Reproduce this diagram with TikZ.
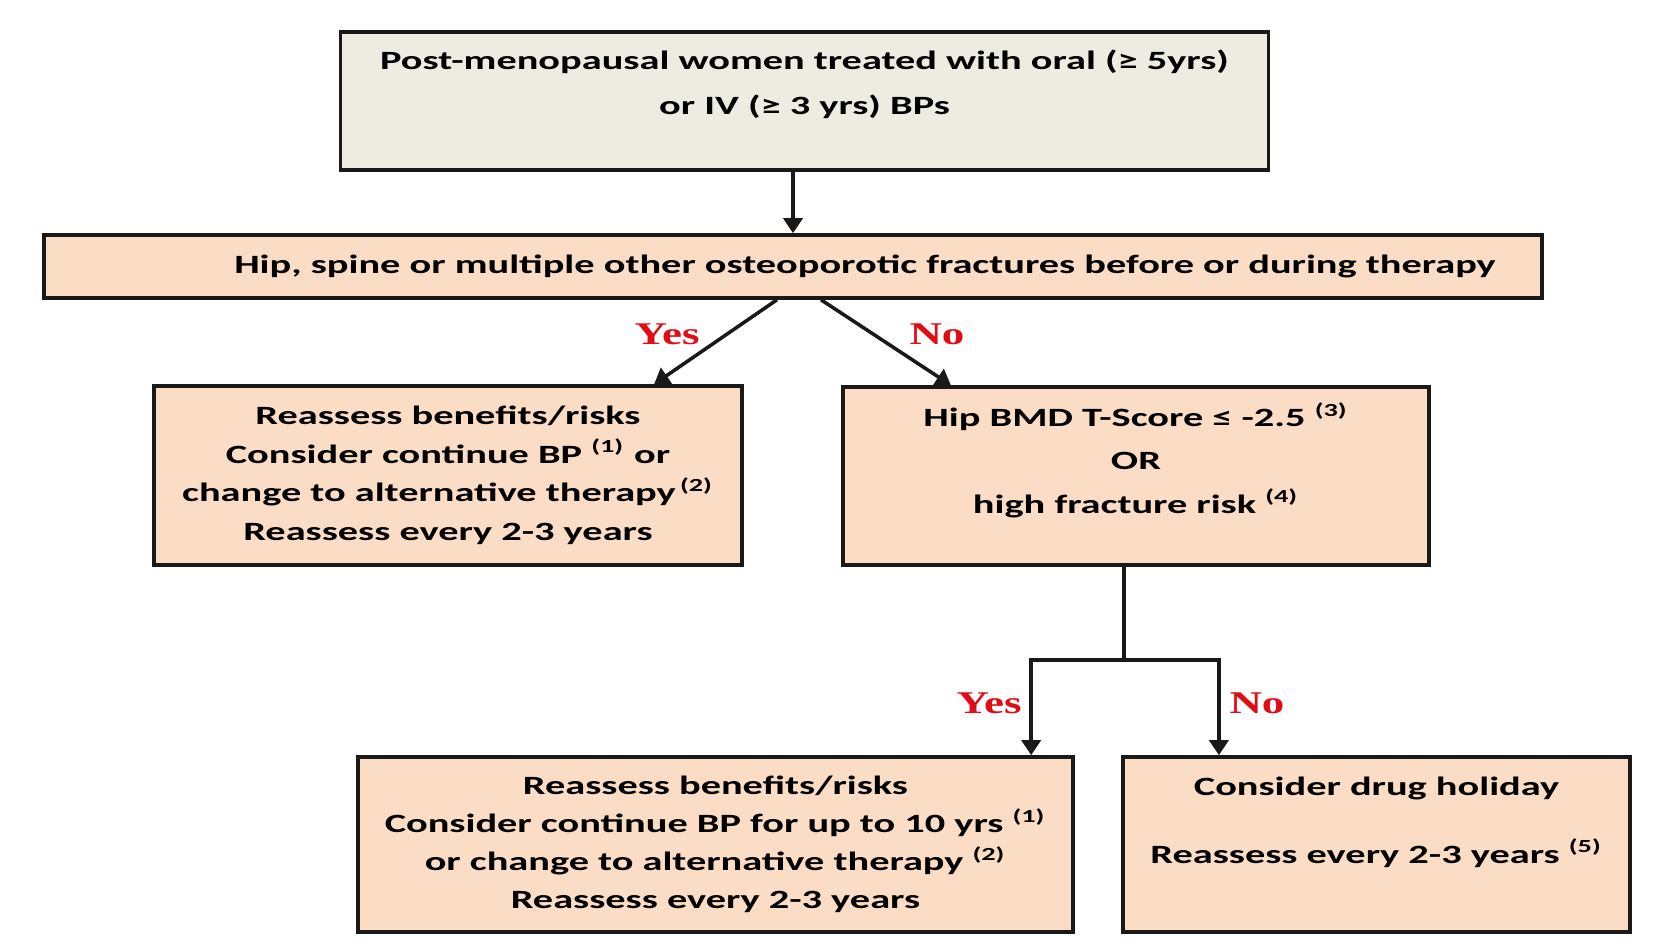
\documentclass[tikz,border=0pt]{standalone}
\usepackage{fontspec}
\setmainfont{Carlito}[FakeStretch=1.53]
\newfontfamily\ynfont{Liberation Serif}[FakeStretch=1.42]
\usetikzlibrary{arrows.meta}
\definecolor{fcedge}{RGB}{25,25,25}
\definecolor{fctan}{RGB}{238,236,225}
\definecolor{fcpeach}{RGB}{251,220,196}
\definecolor{fcred}{RGB}{226,12,22}
\tikzset{
  fcbox/.style={draw=fcedge, line width=1pt, inner sep=0pt},
  tan/.style={fcbox, fill=fctan},
  peach/.style={fcbox, fill=fcpeach},
  txt/.style={align=center, inner sep=0pt,
    font=\fontsize{7.5pt}{11pt}\selectfont\bfseries},
  yn/.style={text=fcred, inner sep=0pt,
    font=\ynfont\fontsize{9pt}{10pt}\selectfont\bfseries},
  wire/.style={draw=fcedge, line width=1pt},
  arr/.style={wire, -{Triangle[length=1.5mm,width=1.9mm]}}
}
\begin{document}
\begin{tikzpicture}[x=0.01cm,y=-0.01cm]
  \useasboundingbox (0,0) rectangle (1662,951);
  % boxes
  \node[tan, minimum width=9.27cm, minimum height=1.38cm] (post) at (804.5,101) {};
  \node[txt, font=\fontsize{7.5pt}{12.7pt}\selectfont\bfseries] (post-txt) at (804.5,84)
    {Post-menopausal women treated with oral (≥ 5yrs)\\or IV (≥ 3 yrs) BPs};
  \node[peach, minimum width=14.975cm, minimum height=0.63cm] (frac) at (793,266.5) {};
  \node[txt] (frac-txt) at (865,266.5)
    {Hip, spine or multiple other osteoporotic fractures before or during therapy};
  \node[peach, txt, minimum width=5.88cm, minimum height=1.79cm,
    font=\fontsize{7.5pt}{10.95pt}\selectfont\bfseries] (contA) at (448,475.5)
    {Reassess benefits/risks\\Consider continue BP \textsuperscript{(1)} or\\
     change to alternative therapy\,\textsuperscript{(2)}\\Reassess every 2-3 years};
  \node[peach, minimum width=5.86cm, minimum height=1.78cm] (bmd) at (1136,476) {};
  \node[txt, font=\fontsize{7.5pt}{12.3pt}\selectfont\bfseries] (bmd-txt) at (1136,460)
    {Hip BMD T-Score ≤ -2.5 \textsuperscript{(3)}\\OR\\high fracture risk \textsuperscript{(4)}};
  \node[peach, txt, minimum width=7.15cm, minimum height=1.75cm,
    font=\fontsize{7.5pt}{10.8pt}\selectfont\bfseries] (contB) at (715.5,844.5)
    {Reassess benefits/risks\\Consider continue BP for up to 10 yrs \textsuperscript{(1)}\\
     or change to alternative therapy \textsuperscript{(2)}\\Reassess every 2-3 years};
  \node[peach, minimum width=5.07cm, minimum height=1.75cm] (holiday) at (1376.5,844.5) {};
  \node[txt] (holiday-txt) at (1376.5,822)
    {Consider drug holiday\\[8.3pt]Reassess every 2-3 years \textsuperscript{(5)}};
  % connectors
  \draw[arr] (post.south -| frac.north) -- (frac.north);
  \draw[arr] ([xshift=-0.16cm]frac.south) -- ([xshift=2.06cm]contA.north);
  \draw[arr] ([xshift=0.28cm]frac.south) -- ([xshift=-1.85cm]bmd.north);
  \coordinate (split) at (1124,660);
  \draw[wire] ([xshift=-0.12cm]bmd.south) -- (split);
  \draw[arr] (split) -| ([xshift=3.155cm]contB.north);
  \draw[arr] (split) -| ([xshift=-1.575cm]holiday.north);
  % answers
  \node[yn] (yes1) at (667,334) {Yes};
  \node[yn] (no1) at (937,334) {No};
  \node[yn] (yes2) at (989,703) {Yes};
  \node[yn] (no2) at (1257,703) {No};
\end{tikzpicture}
\end{document}
